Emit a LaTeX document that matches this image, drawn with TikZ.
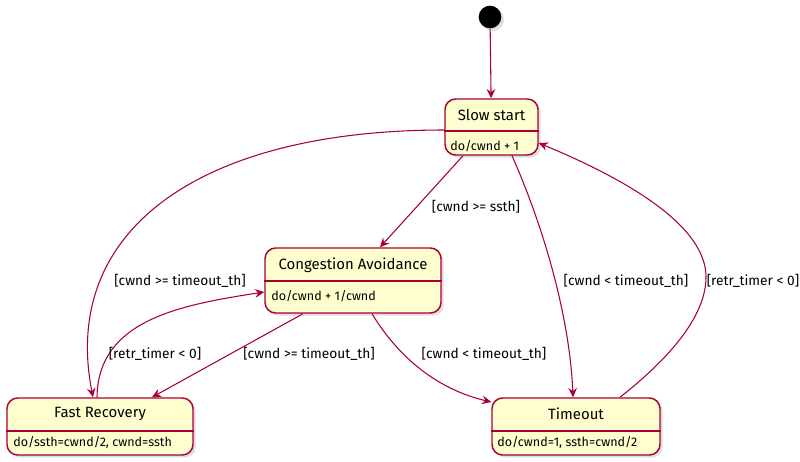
\documentclass[tikz,border=0pt]{standalone}
\usepackage{fontspec}
\setmainfont{Fira Sans}
\usetikzlibrary{arrows.meta,shadows}
\definecolor{umlred}{HTML}{A80036}
\definecolor{umlfill}{HTML}{FEFECE}

\begin{document}
\begin{tikzpicture}[x=0.75pt,y=-0.75pt,>={Stealth[length=7pt,width=6.5pt,inset=2.5pt]},
    umlstate/.style={draw=umlred,fill=umlfill,line width=1.1pt,rounded corners=8pt,
        drop shadow={shadow xshift=2pt,shadow yshift=-2pt,opacity=0.25}},
    stitle/.style={font=\fontsize{11.2}{13}\selectfont,inner sep=0pt},
    sbody/.style={font=\fontsize{9.4}{11}\selectfont,inner sep=0pt,anchor=west},
    guard/.style={font=\fontsize{10.3}{12}\selectfont,inner sep=0pt},
    trans/.style={->,draw=umlred,line width=0.8pt},
    divider/.style={draw=umlred,line width=1.1pt}]
    \useasboundingbox (0,0) rectangle (800,461);

    % initial state
    \node[circle,fill=black,minimum size=17pt,inner sep=0pt,
        drop shadow={shadow xshift=2pt,shadow yshift=-2pt,opacity=0.25}] (Init) at (490,17) {};

    % states
    \node[umlstate,minimum width=69.75pt,minimum height=42pt] (Slow) at (491.5,127) {};
    \draw[divider] (Slow.west |- 0,131) -- (Slow.east |- 0,131);
    \node[stitle] (SlowT) at (491.5,115) {Slow start};
    \node[sbody] (SlowB) at (450,146) {do/cwnd + 1};

    \node[umlstate,minimum width=132pt,minimum height=48.75pt] (Cong) at (353,280.5) {};
    \draw[divider] (Cong.west |- 0,281) -- (Cong.east |- 0,281);
    \node[stitle] (CongT) at (353,265) {Congestion Avoidance};
    \node[sbody] (CongB) at (271,296) {do/cwnd + 1/cwnd};

    \node[umlstate,minimum width=139.5pt,minimum height=42.75pt] (Fast) at (100,426.5) {};
    \draw[divider] (Fast.west |- 0,431) -- (Fast.east |- 0,431);
    \node[stitle] (FastT) at (100,414) {Fast Recovery};
    \node[sbody] (FastB) at (13,442) {do/ssth=cwnd/2, cwnd=ssth};

    \node[umlstate,minimum width=126pt,minimum height=42.75pt] (Tout) at (576,426.5) {};
    \draw[divider] (Tout.west |- 0,431) -- (Tout.east |- 0,431);
    \node[stitle] (ToutT) at (576,414) {Timeout};
    \node[sbody] (ToutB) at (497,442) {do/cwnd=1, ssth=cwnd/2};

    % transitions
    \draw[trans] (Init) -- (Slow);
    \draw[trans] (Slow.west |- 0,130) .. controls (200,130) and (60,230) .. (Fast.north -| 93,0);
    \draw[trans] (Slow.south -| 463,0) -- (Cong.north -| 380,0);
    \draw[trans] (Slow.south -| 512,0) .. controls (545,230) and (570,320) .. (Tout.north -| 573,0);
    \draw[trans] (Tout.north -| 620,0) .. controls (680,350) and (706,310) .. (706,277)
                 .. controls (706,230) and (640,185) .. (Slow.east |- 0,143);
    \draw[trans] (Fast.north -| 97,0) .. controls (98,320) and (180,305) .. (Cong.west |- 0,292);
    \draw[trans] (Cong.south -| 303,0) -- (Fast.north -| 152,0);
    \draw[trans] (Cong.south -| 372,0) .. controls (400,360) and (440,390) .. (Tout.west |- 0,402);

    % guards
    \node[guard] (g1) at (180,281) {[cwnd >= timeout\_th]};
    \node[guard] (g2) at (476,207) {[cwnd >= ssth]};
    \node[guard] (g3) at (626,281) {[cwnd < timeout\_th]};
    \node[guard] (g4) at (753,281) {[retr\_timer < 0]};
    \node[guard] (g5) at (155,354) {[retr\_timer < 0]};
    \node[guard] (g6) at (309,354) {[cwnd >= timeout\_th]};
    \node[guard] (g7) at (484,354) {[cwnd < timeout\_th]};
\end{tikzpicture}
\end{document}
